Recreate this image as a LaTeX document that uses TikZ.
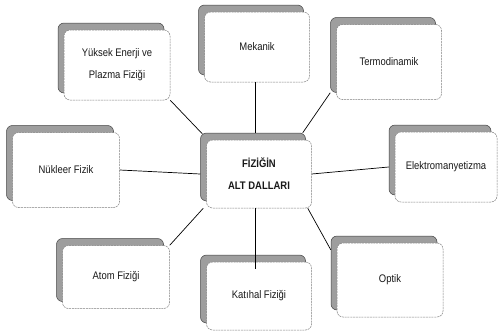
\documentclass[tikz,border=0pt]{standalone}
\usepackage{fontspec}
\setmainfont{Liberation Sans}[FakeStretch=0.86]
\usetikzlibrary{shadows}
\begin{document}
\begin{tikzpicture}[x=1pt,y=-1pt,
  branch/.style={rectangle, rounded corners=6pt, fill=white, draw=black!50,
    line width=0.5pt, dash pattern=on 2pt off 0.8pt, align=center,
    font=\fontsize{11}{22}\selectfont, inner sep=2pt, text=black!90,
    general shadow={fill=black!38, draw=black!75, solid, line width=0.5pt,
      shadow xshift=-6pt, shadow yshift=7pt}},
  link/.style={draw=black, line width=0.7pt}]
\useasboundingbox (0,0) rectangle (499,335);
\node[branch, minimum width=106pt, minimum height=70pt] (yuk) at (117,65) {Yüksek Enerji ve\\Plazma Fiziği};
\node[branch, minimum width=105pt, minimum height=70pt] (mek) at (257,47) {Mekanik};
\node[branch, minimum width=105pt, minimum height=75pt] (ter) at (389,62) {Termodinamik};
\node[branch, minimum width=107pt, minimum height=75pt] (nuk) at (66,170) {Nükleer Fizik};
\node[branch, minimum width=105pt, minimum height=68pt, font=\fontsize{11}{22}\selectfont\bfseries] (ctr) at (259,174) {FİZİĞİN\\ALT DALLARI};
\node[branch, minimum width=102pt, minimum height=70pt] (ele) at (446,167) {Elektromanyetizma};
\node[branch, minimum width=107pt, minimum height=63pt] (ato) at (116,277) {Atom Fiziği};
\node[branch, minimum width=105pt, minimum height=68pt] (kat) at (259,296) {Katıhal Fiziği};
\node[branch, minimum width=106pt, minimum height=74pt] (opt) at (390,280) {Optik};
\coordinate (ctrNW) at ([xshift=-4pt,yshift=6pt]ctr.north west);
\draw[link] (yuk.south east) -- (ctrNW);
\draw[link] ([xshift=-2pt]mek.south) -- ([xshift=-4pt,yshift=7pt]ctr.north);
\draw[link] ([xshift=-6pt,yshift=7pt]ter.south west) -- ([xshift=-9pt,yshift=7pt]ctr.north east);
\draw[link] (nuk.east) -- ([xshift=-6pt]ctr.west);
\draw[link] (ctr.east) -- ([xshift=-6pt]ele.west);
\draw[link] (ato.north east) -- ([xshift=-3pt]ctr.south west);
\draw[link] ([xshift=-4pt]ctr.south) -- ([xshift=-4pt,yshift=-7pt]kat.north);
\draw[link] ([xshift=-4pt]ctr.south east) -- ([xshift=-6pt,yshift=-7pt]opt.north west);
\end{tikzpicture}
\end{document}
